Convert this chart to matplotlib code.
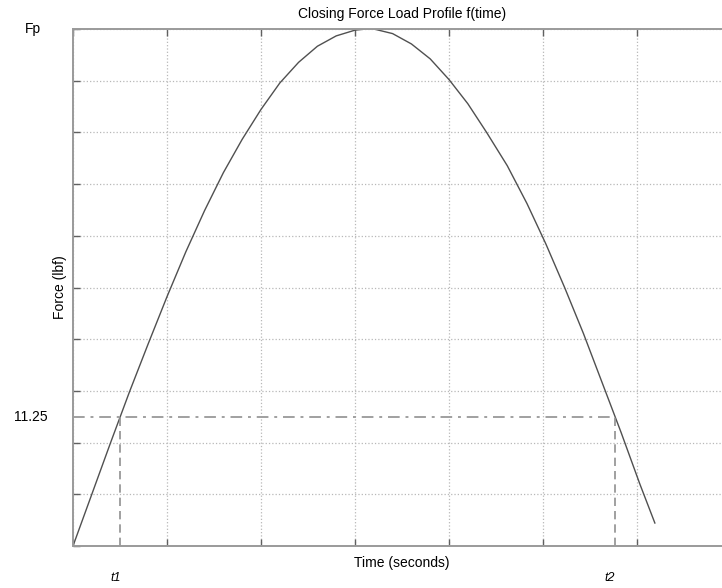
import matplotlib
matplotlib.use("Agg")
import matplotlib.pyplot as plt
import matplotlib.transforms as mtransforms

plt.rcParams['font.family'] = ['Liberation Sans', 'DejaVu Sans']

# Data (time in grid units, force in lbf)
time_vals = [0.0, 0.2, 0.4, 0.6, 0.8, 1.0, 1.2, 1.4, 1.6, 1.8, 2.0, 2.2,
             2.4, 2.6, 2.8, 3.0, 3.12, 3.2, 3.4, 3.6, 3.8, 4.0, 4.2, 4.4,
             4.62, 4.83, 5.03, 5.23, 5.43, 5.63, 5.83, 6.03, 6.19]
force_vals = [0.0, 4.5, 9.0, 13.4, 17.6, 21.7, 25.6, 29.2, 32.5, 35.4,
              38.0, 40.3, 42.1, 43.5, 44.4, 44.9, 45.0, 45.0, 44.6, 43.7,
              42.4, 40.6, 38.5, 36.0, 33.1, 29.8, 26.3, 22.5, 18.5, 14.2,
              9.9, 5.4, 2.0]
Fp = 45.0
F_level = 11.25
t1 = 0.50
t2 = 5.77
x_ticks = [0, 1, 2, 3, 4, 5, 6, 7]
y_ticks = [0, 4.5, 9, 13.5, 18, 22.5, 27, 31.5, 36, 40.5, 45]

fig = plt.figure(figsize=(7.22, 5.88), dpi=100)
ax = fig.add_axes([73/722, 42/588, 658/722, 517/588])

ax.plot(time_vals, force_vals, color='#505050', lw=1.0)

# reference lines
ax.plot([0, t2], [F_level, F_level], color='#a0a0a0', lw=1.4,
        linestyle=(0, (6, 3, 1.5, 3)))
ax.plot([t1, t1], [0, F_level], color='#909090', lw=1.2, linestyle=(0, (5, 3)))
ax.plot([t2, t2], [0, F_level], color='#909090', lw=1.2, linestyle=(0, (5, 3)))

ax.set_xlim(0, 7)
ax.set_ylim(0, Fp)
ax.set_xticks(x_ticks)
ax.set_yticks(y_ticks)
ax.set_xticklabels([])
ax.set_yticklabels([])
ax.tick_params(direction='in', length=5, width=1, color='#606060',
               top=True, right=True)
ax.grid(True, color='#b8b8b8', linestyle=':', lw=0.9)
for s in ax.spines.values():
    s.set_color('#9a9a9a')
    s.set_linewidth(1.4)

ax.set_title('Closing Force Load Profile f(time)', fontsize=10, pad=8)
ax.set_xlabel('Time (seconds)', fontsize=10, labelpad=4)
ax.set_ylabel('Force (lbf)', fontsize=10, labelpad=0.5)

# custom y labels on the left
trans_y = mtransforms.blended_transform_factory(fig.transFigure, ax.transData)
ax.text(33/722, Fp, 'Fp', transform=trans_y, ha='center', va='center',
        fontsize=10)
ax.text(31/722, F_level, '11.25', transform=trans_y, ha='center', va='center',
        fontsize=10)

# t1, t2 labels below axis
trans_x = mtransforms.blended_transform_factory(ax.transData, fig.transFigure)
ax.text(t1 - 0.05, 10/588, 't1', transform=trans_x, ha='center', va='center',
        fontsize=9, style='italic')
ax.text(t2 - 0.06, 10/588, 't2', transform=trans_x, ha='center', va='center',
        fontsize=9, style='italic')

fig.savefig('out.png', dpi=100)
